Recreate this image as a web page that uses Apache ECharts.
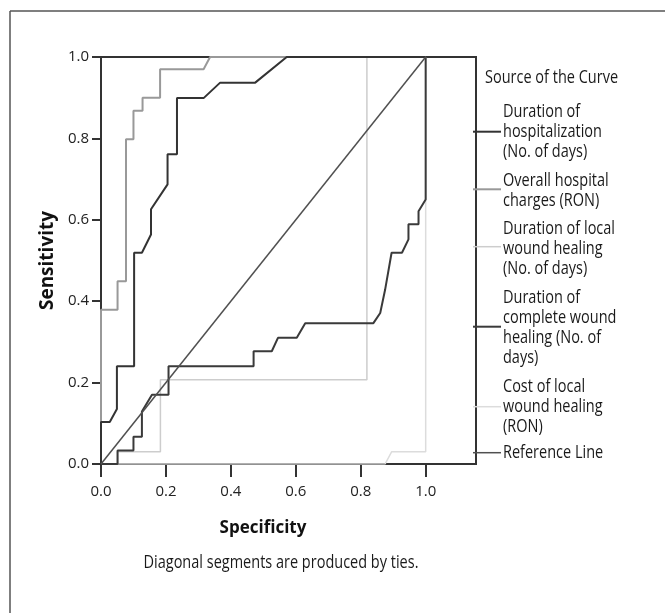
<!DOCTYPE html>
<html>
<head>
<meta charset="utf-8">
<script src="https://cdn.jsdelivr.net/npm/echarts@6/dist/echarts.min.js"></script>
<style>html,body{margin:0;padding:0;background:#fff}#c{width:665px;height:613px}</style>
</head>
<body>
<div id="c"></div>
<script>
// tick labels
const xTicks = [0, 0.2, 0.4, 0.6, 0.8, 1.0];
const yTicks = [0, 0.2, 0.4, 0.6, 0.8, 1.0];
// series names
const names = [
  'Duration of\nhospitalization\n(No. of days)',
  'Overall hospital\ncharges (RON)',
  'Duration of local\nwound healing\n(No. of days)',
  'Duration of\ncomplete wound\nhealing (No. of\ndays)',
  'Cost of local\nwound healing\n(RON)',
  'Reference Line'
];
// curve points [x, sensitivity]
const hospDays = [[0,0],[0,0.103],[0.027,0.103],[0.049,0.135],[0.049,0.24],[0.102,0.24],[0.102,0.519],[0.126,0.519],[0.154,0.564],[0.154,0.626],[0.205,0.687],[0.205,0.761],[0.234,0.761],[0.234,0.899],[0.316,0.899],[0.367,0.937],[0.475,0.937],[0.572,1.0],[1,1]];
const hospCharges = [[0,0],[0,0.379],[0.051,0.379],[0.051,0.449],[0.077,0.449],[0.077,0.798],[0.1,0.798],[0.1,0.868],[0.128,0.868],[0.128,0.90],[0.182,0.90],[0.182,0.97],[0.316,0.97],[0.336,1.0],[1,1]];
const localDays = [[0,0],[0.051,0],[0.051,0.03],[0.183,0.03],[0.183,0.207],[0.819,0.207],[0.819,1.0],[1,1]];
const completeDays = [[0,0],[0.051,0],[0.051,0.033],[0.1,0.033],[0.1,0.067],[0.126,0.067],[0.126,0.129],[0.157,0.17],[0.208,0.17],[0.208,0.24],[0.47,0.24],[0.47,0.277],[0.526,0.277],[0.545,0.31],[0.603,0.31],[0.629,0.346],[0.839,0.346],[0.86,0.371],[0.875,0.428],[0.895,0.519],[0.927,0.519],[0.947,0.552],[0.947,0.589],[0.978,0.589],[0.978,0.621],[1.0,0.65],[1.0,1.0]];
const localCost = [[0,0],[0.875,0],[0.895,0.03],[1.0,0.03],[1.0,1.0]];
const reference = [[0,0],[1,1]];

const seriesData = [localCost, localDays, hospCharges, completeDays, hospDays, reference];
const seriesNameIdx = [4, 2, 1, 3, 0, 5];
const colors = ['#333333', '#999999', '#cdcdcd', '#3a3a3a', '#dcdcdc', '#505050'];
const widths = [2, 2, 1.5, 2, 1.5, 1.5];

const FONT = 'Open Sans';
const chart = echarts.init(document.getElementById('c'), null, {renderer: 'canvas'});

const series = seriesData.map((d, i) => {
  const k = seriesNameIdx[i];
  return {
    name: names[k], type: 'line', data: d, showSymbol: false, symbol: 'none',
    lineStyle: {color: colors[k], width: widths[k]}, itemStyle: {color: colors[k]},
    animation: false, silent: true, z: 2 + i
  };
});

// legend drawn next to the frame
const SY = 1.2;
const legendLineY = [131.7, 189.3, 246.7, 326.7, 406.7, 452.7];
const legendTextY = [132, 191.5, 249, 328.5, 407.5, 453.3];
const txt = (s, x, y, size, extra) => Object.assign({
  type: 'text', x: x, y: y, scaleY: SY,
  style: {text: s, font: size + 'px "Open Sans"', fill: '#1a1a1a', textVerticalAlign: 'middle', lineHeight: 20 / SY}
}, extra || {});
const graphics = [
  {type: 'line', shape: {x1: 10, y1: 11, x2: 665, y2: 11}, style: {stroke: '#555', lineWidth: 1.5}},
  {type: 'line', shape: {x1: 10, y1: 11, x2: 10, y2: 613}, style: {stroke: '#555', lineWidth: 1.5}},
  txt('Source of the Curve', 485, 78, 14.5),
  {type: 'text', x: 281, y: 563, scaleY: SY, style: {text: 'Diagonal segments are produced by ties.', font: '14.5px "Open Sans"', fill: '#1a1a1a', textAlign: 'center', textVerticalAlign: 'middle'}}
];
names.forEach((n, k) => {
  graphics.push({type: 'line', shape: {x1: 473, y1: legendLineY[k], x2: 501, y2: legendLineY[k]}, style: {stroke: colors[k], lineWidth: widths[k]}});
  graphics.push(txt(n, 503, legendTextY[k], 14.5));
});

chart.setOption({
  backgroundColor: '#fff',
  animation: false,
  grid: {left: 101, right: 189, top: 57, bottom: 149, show: true, borderColor: '#333', borderWidth: 2, backgroundColor: 'transparent'},
  xAxis: {
    type: 'value', min: 0, max: 1.155,
    name: 'Specificity', nameLocation: 'middle', nameGap: 56,
    nameTextStyle: {fontFamily: FONT, fontWeight: 'bold', fontSize: 17, color: '#111', padding: [0, 51, 0, 0]},
    axisLine: {show: true, lineStyle: {color: '#333', width: 2}},
    axisTick: {show: true, length: 13, lineStyle: {color: '#333', width: 2}, customValues: xTicks},
    axisLabel: {fontFamily: FONT, fontSize: 15, color: '#222', margin: 20, customValues: xTicks, formatter: v => v.toFixed(1)},
    splitLine: {show: false}
  },
  yAxis: {
    type: 'value', min: 0, max: 1,
    name: 'Sensitivity', nameLocation: 'middle', nameGap: 37,
    nameTextStyle: {fontFamily: FONT, fontWeight: 'bold', fontSize: 19, color: '#111'},
    axisLine: {show: true, lineStyle: {color: '#333', width: 2}},
    axisTick: {show: true, length: 9, lineStyle: {color: '#333', width: 2}, customValues: yTicks},
    axisLabel: {fontFamily: FONT, fontSize: 15, color: '#222', margin: 12, customValues: yTicks, formatter: v => v.toFixed(1)},
    splitLine: {show: false}
  },
  series: series,
  graphic: graphics
});
</script>
</body>
</html>
